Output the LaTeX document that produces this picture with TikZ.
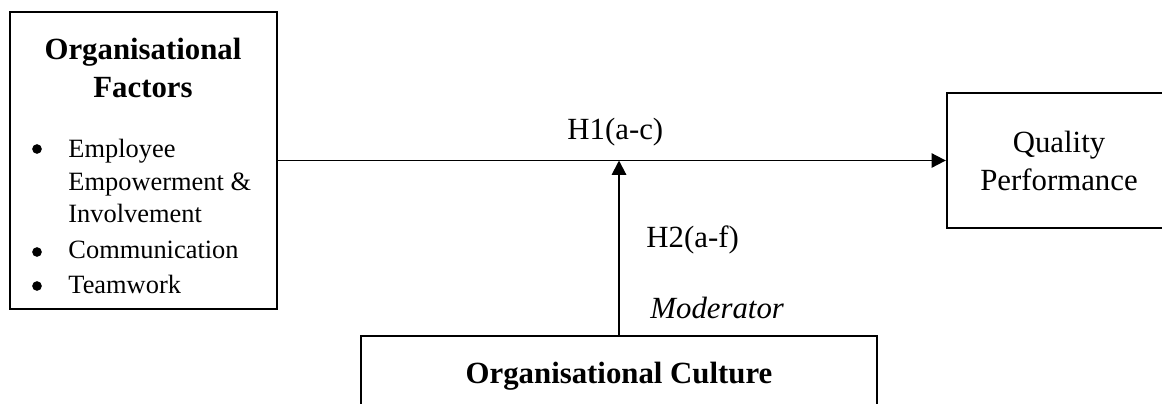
\documentclass[tikz,border=0pt]{standalone}
\usepackage{fontspec}
\setmainfont{Liberation Serif}
\usetikzlibrary{arrows.meta}
\tikzset{
  box/.style={draw,line width=1.1pt,rectangle,inner sep=0pt},
  lbl/.style={inner sep=0pt,font=\fontsize{14}{17}\selectfont},
  item/.style={inner sep=0pt,anchor=base west,font=\fontsize{12}{14.5}\selectfont},
  dot/.style={circle,fill,inner sep=0pt,minimum size=4.4pt},
  arr/.style={line width=0.9pt,-{Triangle[length=6.5pt,width=6.5pt]}}
}
\begin{document}
\begin{tikzpicture}[x=0.4545pt,y=-0.4545pt]
                \useasboundingbox (0,0) rectangle (1162,403);
                %% boxes
                \node[box,minimum width=121.4pt,minimum height=135pt] (factors) at (143.5,160.5) {};
                \node[box,minimum width=103.6pt,minimum height=61.4pt] (quality) at (1061,160.5) {};
                \node[box,minimum width=234.5pt,minimum height=34.5pt] (culture) at (619,374) {};
                %% left
                \node[lbl,anchor=base,font=\fontsize{14}{17}\selectfont\bfseries] (head1) at (143,59) {Organisational};
                \node[lbl,anchor=base,font=\fontsize{14}{17}\selectfont\bfseries] (head2) at (143,97) {Factors};
                \node[dot] (b1) at (37,149) {};
                \node[item] (i1) at (68,157) {Employee};
                \node[item] (i2) at (68,190) {Empowerment \&};
                \node[item] (i3) at (68,222) {Involvement};
                \node[dot] (b2) at (37,252) {};
                \node[item] (i4) at (68,258) {Communication};
                \node[dot] (b3) at (37,286) {};
                \node[item] (i5) at (68,293) {Teamwork};
                %% right
                \node[lbl,anchor=base] (q1) at (1059,152) {Quality};
                \node[lbl,anchor=base] (q2) at (1059,190) {Performance};
                %% bottom
                \node[lbl,anchor=base,font=\fontsize{14}{17}\selectfont\bfseries] (oc) at (619,383) {Organisational Culture};
                %% arrows
                \coordinate (meet) at (culture.north |- factors.east);
                \draw[arr] (factors.east) -- (quality.west);
                \draw[arr] (culture.north) -- (meet);
                \node[lbl,anchor=base west] (h1) at (567,139) {H1(a-c)};
                \node[lbl,anchor=base west] (h2) at (646,247) {H2(a-f)};
                \node[lbl,anchor=base west,font=\fontsize{14}{17}\selectfont\itshape] (mod) at (650,318) {Moderator};
            \end{tikzpicture}
\end{document}
